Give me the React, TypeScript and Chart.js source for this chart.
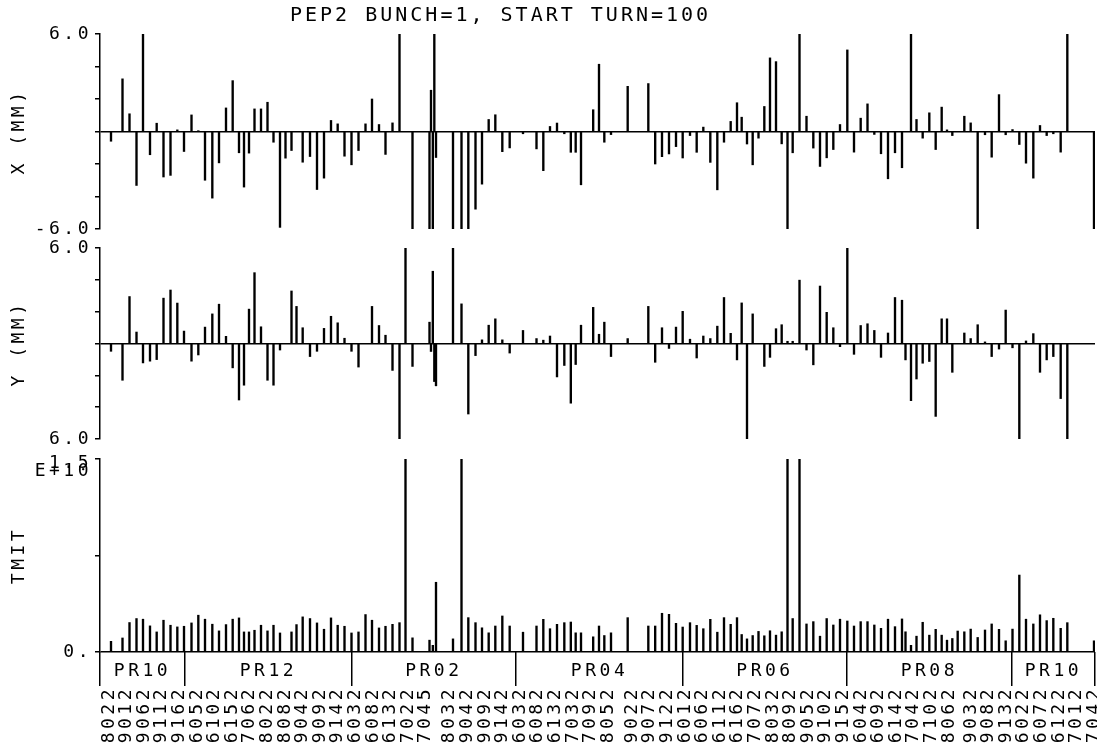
import { useEffect, useRef } from 'react';
import { Chart, registerables } from 'chart.js';

Chart.register(...registerables);

// ---- data ----
const TITLE = 'PEP2 BUNCH=1, START TURN=100';

// BPM positions along the ring (m)
const bpmS = [
  24.2, 49.5, 64.9, 80.3, 94.6, 110, 124.7, 139.7, 155.1, 170.1,
  184.8, 201.3, 216.3, 231, 247.1, 261.8, 277.2, 291.9, 305.8, 316.8,
  327.8, 339.9, 354.2, 368.5, 381.7, 396, 408.1, 421.3, 432.3, 445.9,
  462, 477.4, 492.8, 508.2, 522.9, 537.9, 553.3, 568.7, 584.1, 598.4,
  613.8, 628.1, 643.5, 658.9, 672.1, 687.5, 724.9, 728.2, 732.2, 735.5,
  739.2, 776.6, 795.3, 810.3, 826.1, 840.4, 855.1, 869.7, 885.1, 901.3,
  930.6, 960.3, 975.3, 990, 1005.4, 1021.5, 1035.8, 1046.5, 1058.2, 1085,
  1097.8, 1109.5, 1124.2, 1160.9, 1206.3, 1221.4, 1236.4, 1251.8, 1267.2, 1281.9,
  1298, 1312.7, 1327.3, 1342.7, 1358.1, 1372.8, 1387.5, 1401.4, 1411.7, 1423.4,
  1435.9, 1448.7, 1461.5, 1474, 1487.2, 1499.7, 1512.5, 1523.9, 1538.9, 1554.3,
  1569.3, 1584, 1598.7, 1613.3, 1628, 1644.1, 1658.8, 1673.5, 1688.5, 1703.5,
  1718.2, 1733.6, 1749, 1764.4, 1772.1, 1784.2, 1796.3, 1809.9, 1824.5, 1838.5,
  1851.7, 1863.4, 1875.1, 1886.9, 1901.5, 1915.5, 1930.9, 1947, 1961.7, 1977.8,
  1992.5, 2007.5, 2022.5, 2037.2, 2053.3, 2068, 2082.7, 2097.3, 2113.5, 2128.1,
  2186.8,
];

// X orbit (mm)
const xOrbit = [
  -0.6, 3.24, 1.09, -3.32, 6.0, -1.43, 0.51, -2.8, -2.7, 0.1,
  -1.23, 1.02, 0.05, -3.0, -4.1, -1.93, 1.45, 3.13, -1.31, -3.42,
  -1.33, 1.39, 1.39, 1.8, -0.66, -5.9, -1.64, -1.17, 0.0, -1.89,
  -1.54, -3.57, -2.87, 0.68, 0.47, -1.52, -2.05, -1.17, 0.47, 2.0,
  0.43, -1.41, 0.53, 6.0, 0.0, -6.0, -6.0, 2.54, -6.0, 6.0,
  -1.6, -6.0, -6.0, -6.0, -4.78, -3.24, 0.74, 1.03, -1.24, -1.01,
  -0.14, -1.07, -2.41, 0.31, 0.52, -0.14, -1.28, -1.28, -3.28, 1.34,
  4.14, -0.66, -0.19, 2.78, 2.95, -2.0, -1.55, -1.38, -0.93, -1.63,
  -0.25, -1.28, 0.27, -1.9, -3.59, -0.66, 0.62, 1.77, 0.88, -0.77,
  -2.05, -0.41, 1.54, 4.53, 4.3, -0.76, -6.0, -1.31, 6.0, 0.94,
  -1.02, -2.15, -1.62, -1.11, 0.43, 5.02, -1.27, 0.82, 1.7, -0.18,
  -1.37, -2.91, -1.31, -2.23, 0.0, 6.0, 0.74, -0.41, 1.15, -1.11,
  1.5, 0.1, -0.25, 0.0, 0.94, 0.53, -6.0, -0.2, -1.58, 2.27,
  -0.2, 0.12, -0.8, -1.95, -2.87, 0.37, -0.25, -0.14, -1.27, 6.0,
  -6.0,
];

// Y orbit (mm)
const yOrbit = [
  -0.49, -2.31, 2.95, 0.72, -1.22, -1.11, -1.01, 2.85, 3.36, 2.54,
  0.78, -1.11, -0.72, 1.03, 1.86, 2.47, 0.45, -1.53, -3.55, -2.62,
  2.16, 4.45, 1.05, -2.31, -2.62, -0.41, 0.0, 3.3, 2.33, 0.99,
  -0.82, -0.49, 0.95, 1.71, 1.3, 0.33, -0.49, -1.48, 0.0, 2.33,
  1.13, 0.52, -1.69, -6.0, 6.0, -1.44, 1.34, -0.5, 4.54, -2.39,
  -2.66, 6.0, 2.49, -4.43, -0.76, 0.23, 1.15, 1.55, 0.23, -0.6,
  0.82, 0.31, 0.21, 0.47, -2.1, -1.38, -3.75, -1.32, 1.15, 2.27,
  0.58, 1.34, -0.82, 0.31, 2.33, -1.18, 0.99, -0.31, 1.03, 2.02,
  0.27, -0.91, 0.47, 0.31, 1.09, 2.89, 0.64, -1.03, 2.55, -6.0,
  1.86, 0.0, -1.44, -0.87, 0.93, 1.18, 0.14, 0.14, 3.98, -0.41,
  -1.34, 3.61, 1.96, 0.99, -0.2, 6.0, -0.68, 1.13, 1.24, 0.82,
  -0.87, 0.66, 2.89, 2.72, -1.03, -3.59, -2.23, -1.24, -1.13, -4.58,
  1.55, 1.55, -1.81, 0.0, 0.66, 0.31, 1.18, 0.1, -0.82, -0.35,
  2.1, -0.27, -6.0, 0.16, 0.62, -1.81, -1.03, -0.82, -3.46, -6.0,
  0.0,
];

// TMIT (E+10)
const tmit = [
  0.083, 0.109, 0.229, 0.26, 0.255, 0.203, 0.156, 0.247, 0.208, 0.195,
  0.2, 0.226, 0.286, 0.255, 0.216, 0.164, 0.213, 0.255, 0.265, 0.156,
  0.156, 0.169, 0.208, 0.164, 0.208, 0.148, 0, 0.156, 0.213, 0.273,
  0.26, 0.226, 0.177, 0.265, 0.208, 0.2, 0.148, 0.156, 0.291, 0.247,
  0.187, 0.2, 0.215, 0.228, 1.5, 0.11, 0.092, 0, 0.052, 0,
  0.542, 0.102, 1.5, 0.267, 0.228, 0.188, 0.149, 0.202, 0.28, 0.202,
  0.154, 0.202, 0.254, 0.181, 0.215, 0.228, 0.233, 0.149, 0.149, 0.118,
  0.202, 0.128, 0.149, 0.267, 0.202, 0.202, 0.301, 0.293, 0.223, 0.194,
  0.228, 0.207, 0.181, 0.254, 0.154, 0.267, 0.215, 0.267, 0.136, 0.102,
  0.128, 0.16, 0.126, 0.165, 0.131, 0.157, 1.5, 0.26, 1.5, 0.218,
  0.236, 0.123, 0.26, 0.21, 0.255, 0.241, 0.202, 0.236, 0.236, 0.21,
  0.184, 0.255, 0.197, 0.257, 0.157, 0.052, 0.123, 0.231, 0.131, 0.176,
  0.131, 0.092, 0.105, 0.163, 0.157, 0.178, 0.113, 0.171, 0.218, 0.176,
  0.087, 0.178, 0.598, 0.255, 0.218, 0.289, 0.244, 0.262, 0.184, 0.228,
  0.087,
];

// BPM name tick labels and their positions (m)
const tickNames = [
  '8022', '9012', '9062', '9112', '9162', '6052', '6102', '6152', '7062', '8022',
  '8082', '9042', '9092', '9142', '6032', '6082', '6132', '7022', '7045',
  '8032', '9042', '9092', '9142', '6032', '6082', '6132', '7032', '7092', '8052',
  '9022', '9072', '9122', '6012', '6062', '6112', '6162', '7072', '8032', '8092',
  '9052', '9102', '9152', '6042', '6092', '6142', '7042', '7102', '8062',
  '9032', '9082', '9132', '6022', '6072', '6122', '7012', '7042',
];
const tickS = [
  11, 49.7, 88.4, 127.2, 165.9, 204.6, 243.3, 282, 320.8, 359.5,
  398.2, 436.9, 475.6, 514.4, 553.1, 591.8, 630.5, 669.2, 708,
  760.8, 799.5, 838.2, 876.9, 915.6, 954.4, 993.1, 1031.8, 1070.5, 1109.2,
  1162, 1200.8, 1239.5, 1278.2, 1316.9, 1355.6, 1394.4, 1433.1, 1471.8, 1510.5,
  1549.2, 1588, 1626.7, 1665.4, 1704.1, 1742.8, 1781.6, 1820.3, 1859,
  1907.4, 1946.1, 1984.8, 2023.6, 2062.3, 2101, 2139.7, 2178.4,
];

const sectorNames = ['PR10', 'PR12', 'PR02', 'PR04', 'PR06', 'PR08', 'PR10'];
const sectorEdges = [0, 187, 554, 915, 1283, 1643, 2006, 2189];
const RING_END = 2189;

// ---- styling ----
const FONT = "'DejaVu Sans Mono', monospace";
const BLACK = '#000';
const CLEAR = 'rgba(0,0,0,0)';

const sectorTickValues: number[] = [];
const sectorTickLabels: string[] = [];
sectorNames.forEach((name, i) => {
  sectorTickValues.push(sectorEdges[i]);
  sectorTickLabels.push('');
  sectorTickValues.push((sectorEdges[i] + sectorEdges[i + 1]) / 2);
  sectorTickLabels.push(name);
});
sectorTickValues.push(sectorEdges[sectorEdges.length - 1]);
sectorTickLabels.push('');

const spacingPlugin = {
  id: 'letterSpacing',
  beforeUpdate(chart: any) { chart.ctx.letterSpacing = '3.5px'; },
  beforeLayout(chart: any) { chart.ctx.letterSpacing = '3.5px'; },
  beforeDraw(chart: any) { chart.ctx.letterSpacing = '3.5px'; },
};

const titlePlugin = {
  id: 'plotTitle',
  afterDraw(chart: any) {
    const { ctx, chartArea } = chart;
    ctx.save();
    ctx.letterSpacing = '3px';
    ctx.font = `20px ${FONT}`;
    ctx.fillStyle = BLACK;
    ctx.textAlign = 'left';
    ctx.textBaseline = 'middle';
    ctx.fillText(TITLE, chartArea.left + 190, 16);
    ctx.restore();
  },
};

function panelAxis(extra: any) {
  return {
    type: 'linear',
    position: 'left',
    stack: 'panels',
    border: { display: true, color: BLACK, width: 1.5 },
    grid: {
      drawOnChartArea: true,
      color: (c: any) => (c.tick && c.tick.value === 0 ? BLACK : CLEAR),
      tickColor: BLACK,
      lineWidth: 1.5,
      tickWidth: 1.5,
      tickLength: 5,
    },
    afterFit: (s: any) => { s.width = 100; },
    ...extra,
    ticks: {
      autoSkip: false,
      padding: 3,
      color: BLACK,
      font: { family: FONT, size: 18 },
      ...extra.ticks,
    },
    title: {
      display: true,
      color: BLACK,
      font: { family: FONT, size: 18 },
      padding: { top: 9, bottom: 0 },
      ...extra.title,
    },
  };
}

function spacerAxis(weight: number, stackWeight: number) {
  return {
    type: 'linear',
    position: 'left',
    stack: 'panels',
    weight,
    stackWeight,
    ticks: { display: false },
    grid: { display: false },
    border: { display: false },
    afterFit: (s: any) => { s.width = 100; },
  };
}

export default function App() {
  const canvasRef = useRef<HTMLCanvasElement | null>(null);

  useEffect(() => {
    if (!canvasRef.current) return;
    const pts = (vals: number[]) => bpmS.map((s, i) => ({ x: s, y: vals[i] }));
    const barStyle = {
      backgroundColor: BLACK,
      borderWidth: 0,
      barThickness: 1.7,
      grouped: false,
      xAxisID: 'x',
    };
    const chart = new Chart(canvasRef.current, {
      type: 'bar',
      data: {
        datasets: [
          { label: 'X', data: pts(xOrbit), yAxisID: 'yX', ...barStyle } as any,
          { label: 'Y', data: pts(yOrbit), yAxisID: 'yY', ...barStyle } as any,
          { label: 'TMIT', data: pts(tmit), yAxisID: 'yT', ...barStyle } as any,
        ],
      },
      options: {
        responsive: false,
        animation: false,
        events: [],
        layout: { padding: { top: 34, right: 2, bottom: 0, left: 0 } },
        plugins: {
          legend: { display: false },
          tooltip: { enabled: false },
          title: { display: false },
        },
        scales: {
          yX: panelAxis({
            min: -6, max: 6, weight: 5, stackWeight: 195,
            ticks: {
              stepSize: 2,
              callback: (v: number) => (v === 6 ? '6.0' : v === -6 ? '-6.0' : ''),
            },
            title: { text: 'X (MM)' },
          }),
          gap1: spacerAxis(4, 19),
          yY: panelAxis({
            min: -6, max: 6, weight: 3, stackWeight: 191,
            ticks: {
              stepSize: 2,
              callback: (v: number) => (v === 6 ? '6.0' : v === -6 ? '6.0' : ''),
            },
            title: { text: 'Y (MM)' },
          }),
          gap2: spacerAxis(2, 20),
          yT: panelAxis({
            min: 0, max: 1.5, weight: 1, stackWeight: 193,
            ticks: {
              stepSize: 0.75,
              font: { family: FONT, size: 18, lineHeight: 0.45 },
              callback: (v: number) =>
                v === 0 ? '0.' : Math.abs(v - 1.5) < 1e-9 ? ['', '', '1.5', 'E+10'] : '',
            },
            title: { text: 'TMIT' },
          }),
          sector: {
            type: 'linear',
            position: 'bottom',
            weight: 1,
            min: 0,
            max: RING_END,
            offset: false,
            afterBuildTicks: (s: any) => {
              s.ticks = sectorTickValues.map((v) => ({ value: v }));
            },
            ticks: {
              autoSkip: false,
              minRotation: 0,
              maxRotation: 0,
              padding: -25,
              color: BLACK,
              font: { family: FONT, size: 18 },
              callback: (_v: number, i: number) => sectorTickLabels[i] ?? '',
            },
            grid: {
              offset: false,
              drawOnChartArea: false,
              tickLength: 34,
              lineWidth: 1.5,
              color: (c: any) => (c.index % 2 === 0 ? BLACK : CLEAR),
              tickColor: (c: any) => (c.index % 2 === 0 ? BLACK : CLEAR),
            },
            border: { display: false },
            afterFit: (s: any) => { s.height = 36; s.paddingLeft = 0; s.paddingRight = 0; },
          },
          x: {
            type: 'linear',
            position: 'bottom',
            weight: 2,
            min: 0,
            max: RING_END,
            offset: false,
            afterBuildTicks: (s: any) => {
              s.ticks = tickS.map((v) => ({ value: v }));
            },
            ticks: {
              autoSkip: false,
              minRotation: 90,
              maxRotation: 90,
              padding: -10,
              labelOffset: 4,
              color: BLACK,
              font: { family: FONT, size: 18 },
              callback: (_v: number, i: number) => tickNames[i] ?? '',
            },
            grid: { display: false, offset: false },
            border: { display: false },
            afterFit: (s: any) => { s.height = 59; s.paddingLeft = 0; s.paddingRight = 0; },
          },
        } as any,
      },
      plugins: [spacingPlugin, titlePlugin],
    });
    return () => chart.destroy();
  }, []);

  return (
    <div style={{ position: 'fixed', left: 0, top: 0, width: 1097, height: 747, background: '#fff' }}>
      <canvas ref={canvasRef} width={1097} height={747} style={{ width: 1097, height: 747, display: 'block' }} />
    </div>
  );
}
